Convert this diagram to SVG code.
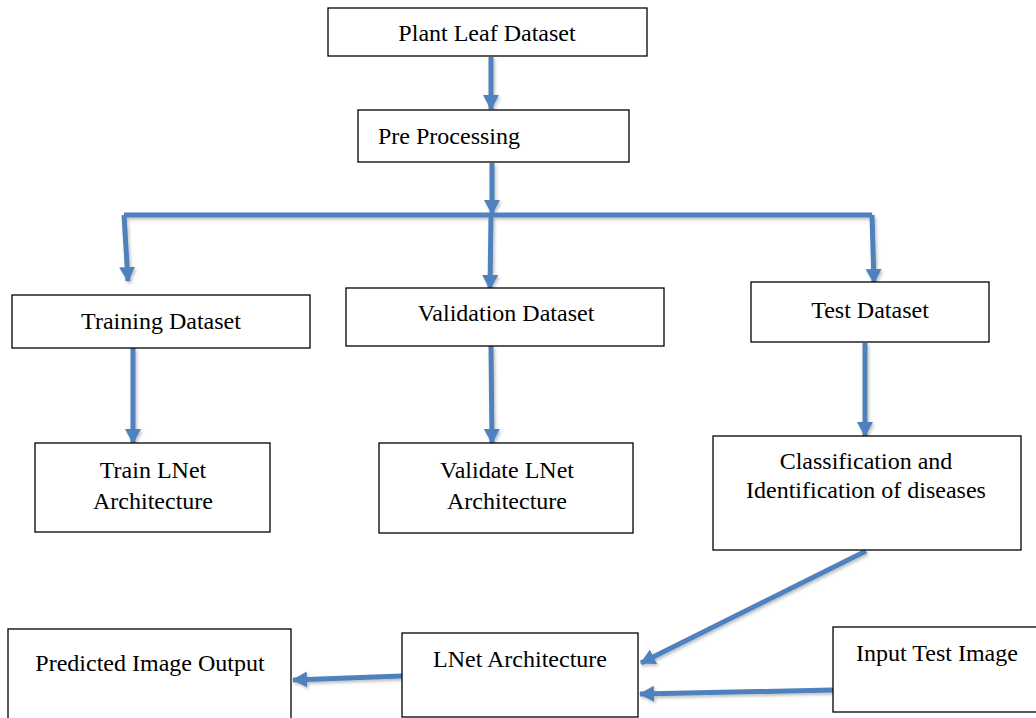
<svg xmlns="http://www.w3.org/2000/svg" width="1036" height="718" viewBox="0 0 1036 718">
<defs>
<marker id="ah" markerUnits="userSpaceOnUse" markerWidth="18" markerHeight="18" refX="14" refY="8" orient="auto">
<path d="M0,0 L15,8 L0,16 Z" fill="#4F81BD"/>
</marker>
<filter id="sh" filterUnits="userSpaceOnUse" x="0" y="0" width="1036" height="718">
<feDropShadow dx="1.5" dy="2" stdDeviation="1.5" flood-color="#000" flood-opacity="0.25"/>
</filter>
</defs>
<style>
.box{fill:#fff;stroke:#000;stroke-width:1.3}
.t{font-family:"Liberation Serif","Times New Roman",serif;font-size:24px;fill:#000}
.c{text-anchor:middle}
.ln{fill:none;stroke:#4F81BD;stroke-width:5}
.ar{marker-end:url(#ah)}
</style>
<rect width="1036" height="718" fill="#fff"/>
<g id="connectors" filter="url(#sh)">
<line class="ln ar" x1="491" y1="57" x2="491" y2="109"/>
<line class="ln ar" x1="492" y1="163" x2="492" y2="214"/>
<polyline class="ln" points="124,215 872,215"/>
<polyline class="ln ar" points="124,215 128,281"/>
<line class="ln ar" x1="491" y1="215" x2="490" y2="289"/>
<line class="ln ar" x1="872" y1="215" x2="874" y2="283"/>
<line class="ln ar" x1="133" y1="348" x2="133" y2="443"/>
<line class="ln ar" x1="491" y1="346" x2="492" y2="443"/>
<line class="ln ar" x1="865" y1="343" x2="865" y2="436"/>
<line class="ln ar" x1="866" y1="551" x2="641" y2="663"/>
<line class="ln ar" x1="402" y1="676" x2="293" y2="680"/>
<line class="ln ar" x1="833" y1="690" x2="640" y2="694"/>
</g>
<g id="plant-leaf-dataset">
<rect class="box" x="328" y="8" width="319" height="48"/>
<text class="t c" x="487" y="41">Plant Leaf Dataset</text>
</g>
<g id="pre-processing">
<rect class="box" x="358" y="110" width="271" height="52"/>
<text class="t" x="378" y="144">Pre Processing</text>
</g>
<g id="training-dataset">
<rect class="box" x="12" y="295" width="298" height="53"/>
<text class="t c" x="161" y="329">Training Dataset</text>
</g>
<g id="validation-dataset">
<rect class="box" x="346" y="288" width="318" height="58"/>
<text class="t c" x="506" y="321">Validation Dataset</text>
</g>
<g id="test-dataset">
<rect class="box" x="751" y="282" width="238" height="60"/>
<text class="t c" x="870" y="318">Test Dataset</text>
</g>
<g id="train-lnet">
<rect class="box" x="35" y="443" width="235" height="89"/>
<text class="t c" x="153" y="478">Train LNet</text>
<text class="t c" x="153" y="509">Architecture</text>
</g>
<g id="validate-lnet">
<rect class="box" x="379" y="443" width="254" height="90"/>
<text class="t c" x="507" y="478">Validate LNet</text>
<text class="t c" x="507" y="509">Architecture</text>
</g>
<g id="classification">
<rect class="box" x="713" y="436" width="308" height="114"/>
<text class="t c" x="866" y="469">Classification and</text>
<text class="t c" x="866" y="498">Identification of diseases</text>
</g>
<g id="predicted-output">
<rect class="box" x="8" y="629" width="283" height="95"/>
<text class="t c" x="150" y="671">Predicted Image Output</text>
</g>
<g id="lnet-architecture">
<rect class="box" x="402" y="633" width="236" height="84"/>
<text class="t c" x="520" y="667">LNet Architecture</text>
</g>
<g id="input-test-image">
<rect class="box" x="833" y="627" width="210" height="85"/>
<text class="t c" x="937" y="661">Input Test Image</text>
</g>
</svg>
